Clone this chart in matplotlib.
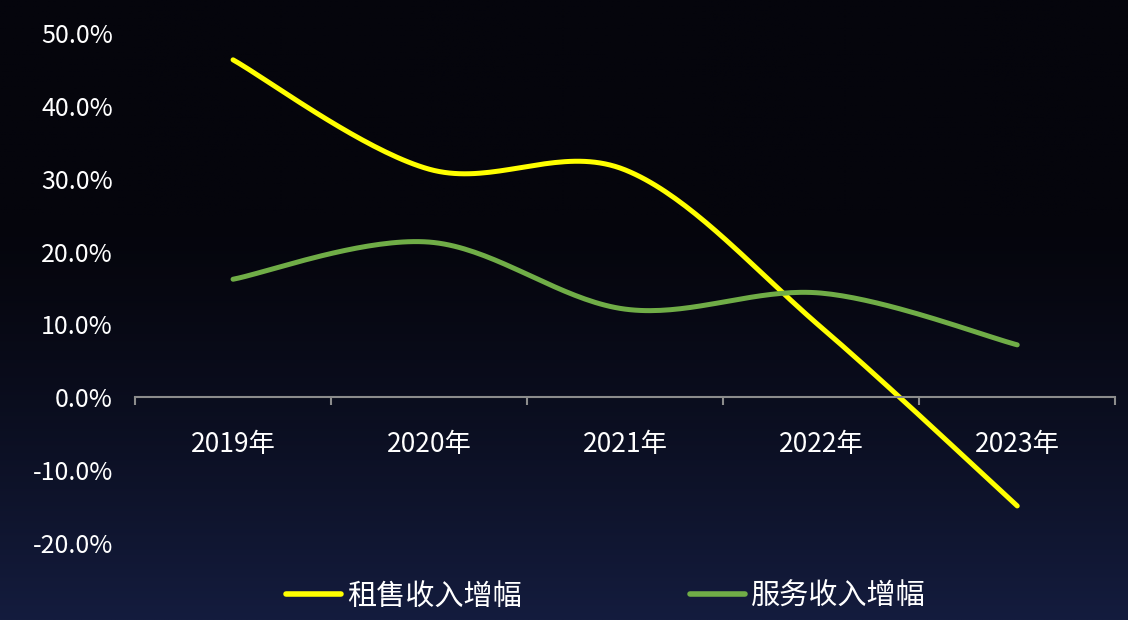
import numpy as np
import matplotlib
matplotlib.use("Agg")
import matplotlib.pyplot as plt
from matplotlib.ticker import FuncFormatter, FixedLocator

plt.rcParams['font.family'] = ['Noto Sans CJK SC', 'DejaVu Sans']

years = ["2019年", "2020年", "2021年", "2022年", "2023年"]
rent_sales = [46.3, 31.3, 31.2, 9.6, -14.9]
service = [16.2, 21.3, 12.1, 14.3, 7.2]
series_names = ["租售收入增幅", "服务收入增幅"]
y_ticks = [-20, -10, 0, 10, 20, 30, 40, 50]


def smooth(xs, ys, n=40):
    # bezier smoothing like spreadsheet "smoothed line"
    p = np.column_stack([xs, ys]).astype(float)
    pts = []
    for i in range(len(p) - 1):
        p0 = p[i - 1] if i > 0 else p[i]
        p1 = p[i]
        p2 = p[i + 1]
        p3 = p[i + 2] if i + 2 < len(p) else p[i + 1]
        c1 = p1 + (p2 - p0) / 6
        c2 = p2 - (p3 - p1) / 6
        t = np.linspace(0, 1, n)[:, None]
        seg = ((1 - t) ** 3) * p1 + 3 * ((1 - t) ** 2) * t * c1 + 3 * (1 - t) * t ** 2 * c2 + t ** 3 * p2
        pts.append(seg if i == 0 else seg[1:])
    out = np.vstack(pts)
    return out[:, 0], out[:, 1]


fig = plt.figure(figsize=(11.28, 6.2), dpi=100)

# background gradient
bg = fig.add_axes([0, 0, 1, 1], zorder=-10)
grad = np.linspace(0, 1, 256)[:, None]
top = np.array([5, 5, 12]) / 255
bottom = np.array([20, 28, 62]) / 255
w = np.clip((grad - 0.35) / 0.65, 0, 1) ** 1.3
img = top + (bottom - top) * w[:, :, None]
bg.imshow(np.repeat(img, 4, axis=1), aspect="auto", extent=[0, 1, 0, 1], origin="upper")
bg.axis("off")

ax = fig.add_axes([0.1197, 0.124, 0.869, 0.823])
ax.patch.set_alpha(0)

x = np.arange(len(years))
sx, sy = smooth(x, rent_sales)
ax.plot(sx, sy, color="#FFFF00", lw=3.6, solid_capstyle="round", label=series_names[0])
gx, gy = smooth(x, service)
ax.plot(gx, gy, color="#70AD47", lw=3.6, solid_capstyle="round", label=series_names[1])

ax.set_xlim(-0.5, len(years) - 0.5)
ax.set_ylim(-20, 50)
ax.yaxis.set_major_locator(FixedLocator(y_ticks))
ax.yaxis.set_major_formatter(FuncFormatter(lambda v, p: f"{v:.1f}%"))
ax.tick_params(axis="y", length=0, pad=16, labelcolor="white", labelsize=18)

ax.xaxis.set_major_locator(FixedLocator(np.arange(-0.5, len(years), 1.0)))
ax.xaxis.set_minor_locator(FixedLocator(x))
ax.set_xticklabels([], minor=False)
ax.set_xticklabels(years, minor=True)
ax.tick_params(axis="x", which="major", length=6, color="#8c8c8c", width=1.5, direction="out")
ax.tick_params(axis="x", which="minor", length=0, pad=24, labelcolor="white", labelsize=19)

for s in ["left", "right", "top"]:
    ax.spines[s].set_visible(False)
ax.spines["bottom"].set_position(("data", 0))
ax.spines["bottom"].set_color("#8c8c8c")
ax.spines["bottom"].set_linewidth(1.5)

leg = fig.legend(loc="center", bbox_to_anchor=(0.537, 0.038), ncol=2, frameon=False,
                 fontsize=21, handlelength=1.9, handletextpad=0.2, columnspacing=5.75)
for t in leg.get_texts():
    t.set_color("white")
for l in leg.get_lines():
    l.set_linewidth(4)

fig.savefig("out.png", dpi=100)
